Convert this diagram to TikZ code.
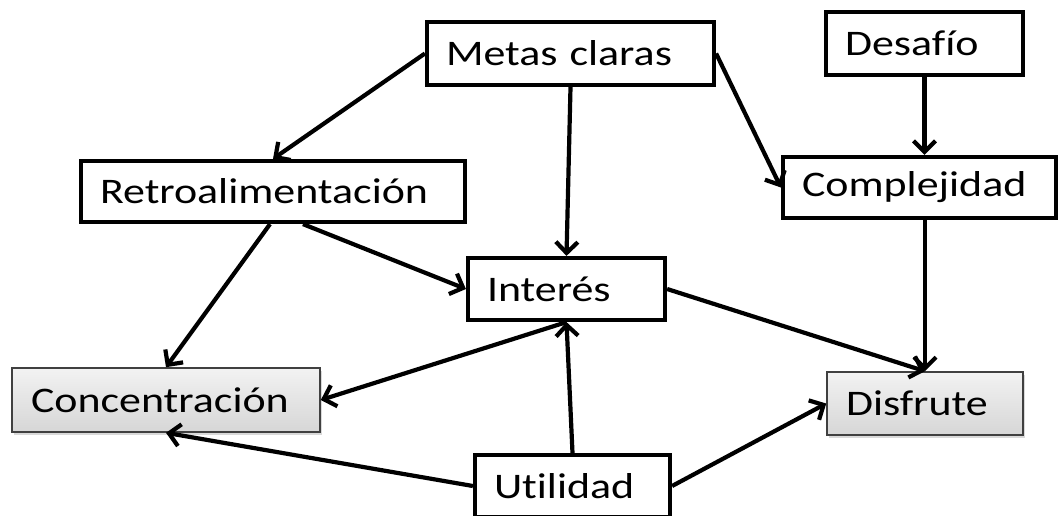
\documentclass[tikz,border=0pt]{standalone}
\usepackage{fontspec}
\setmainfont{Carlito}[FakeStretch=1.22, Ligatures=NoCommon, WordSpace=0.75]
\usepackage{tikz}
\usetikzlibrary{arrows.meta,positioning,calc,shadows}

\begin{document}
\begin{tikzpicture}[x=1pt, y=-1pt,
    font=\fontsize{36}{40}\selectfont,
    >={Straight Barb[length=11pt,width=22pt]},
    box/.style={draw=black, line width=4.2pt, fill=white, inner xsep=19pt,
        inner ysep=0pt, align=left, anchor=center},
    graybox/.style={box, draw=black!75, line width=1.6pt, top color=gray!10,
        bottom color=gray!32, drop shadow={shadow xshift=2pt, shadow yshift=-3pt, opacity=0.3}},
    link/.style={->, line width=4.2pt}]
    \useasboundingbox (0,0) rectangle (1058,515);

    % Boxes
    \node[box, text width=249pt, minimum height=63pt] (metas) at (570.5,53.5) {Metas claras};
    \node[box, text width=159pt, minimum height=63pt] (desafio) at (924.5,43.5) {Desafío};
    \node[box, text width=346pt, minimum height=61pt] (retro) at (273,191.5) {Retroalimentación};
    \node[box, text width=235pt, minimum height=61pt] (compl) at (919.5,187.5) {Complejidad};
    \node[box, text width=159pt, minimum height=62pt] (interes) at (566.5,289) {Interés};
    \node[graybox, text width=270pt, minimum height=64pt] (concen) at (166,400) {Concentración};
    \node[graybox, text width=158pt, minimum height=63pt] (disfrute) at (925,403.5) {Disfrute};
    \node[box, text width=157pt, minimum height=62pt] (utilidad) at (572.5,486) {Utilidad};

    % Arrows from the top row
    \draw[link] (metas.west) -- (retro.north);
    \draw[link] (metas.south) -- (interes.north);
    \draw[link] (metas.east) -- (compl.west);
    \draw[link] (desafio.south) -- (desafio.south |- compl.north);

    % Arrows from the middle row
    \draw[link] ([xshift=30pt]retro.south) -- (interes.west);
    \draw[link] ([xshift=-3pt]retro.south) -- (concen.north);
    \draw[link] (interes.south) -- (concen.east);
    \draw[link] (interes.east) -- (disfrute.north);
    \draw[link] (disfrute.north |- compl.south) -- (disfrute.north);

    % Arrows from Utilidad
    \draw[link] (utilidad.north) -- (interes.south);
    \draw[link] (utilidad.west) -- (concen.south);
    \draw[link] (utilidad.east) -- (disfrute.west);
\end{tikzpicture}
\end{document}
